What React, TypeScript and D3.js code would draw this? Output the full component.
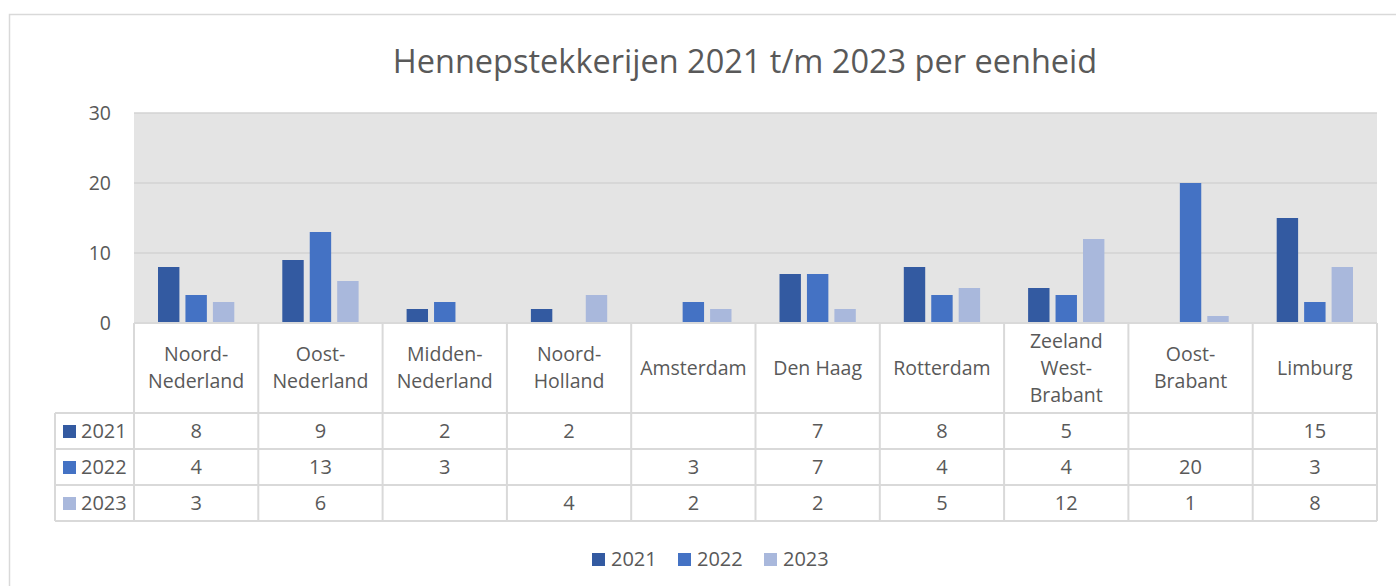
import * as d3 from "d3";

const categories = [
  "Noord-\nNederland",
  "Oost-\nNederland",
  "Midden-\nNederland",
  "Noord-\nHolland",
  "Amsterdam",
  "Den Haag",
  "Rotterdam",
  "Zeeland\nWest-\nBrabant",
  "Oost-\nBrabant",
  "Limburg",
];
const years = ["2021", "2022", "2023"];
const values2021: (number | null)[] = [8, 9, 2, 2, null, 7, 8, 5, null, 15];
const values2022: (number | null)[] = [4, 13, 3, null, 3, 7, 4, 4, 20, 3];
const values2023: (number | null)[] = [3, 6, null, 4, 2, 2, 5, 12, 1, 8];
const yTicks = [0, 10, 20, 30];
const colors = ["#335aa1", "#4472c4", "#a9b8dc"];

const series = [values2021, values2022, values2023];

const W = 1396;
const H = 586;
const plotL = 134;
const plotR = 1377;
const plotT = 113;
const plotB = 323;
const headerB = 413;
const rowH = 36;
const legendColL = 55;
const font = "'Open Sans', 'Noto Sans', sans-serif";
const textColor = "#595959";
const lineColor = "#d9d9d9";
const fs = 19.5;

export default function App() {
  const x = d3.scaleBand<number>().domain(d3.range(categories.length)).range([plotL, plotR]);
  const inner = d3.scaleBand<number>().domain([0, 1, 2]).range([24, x.bandwidth() - 24]).paddingInner(0.22);
  const y = d3.scaleLinear().domain([0, 30]).range([plotB, plotT]);

  return (
    <svg width={W} height={H} style={{ position: "absolute", left: 0, top: 0 }} fontFamily={font}>
      <rect x={0} y={0} width={W} height={H} fill="#fff" />
      <rect x={9.5} y={14.5} width={W + 20} height={H + 20} fill="none" stroke={lineColor} strokeWidth={1.5} />
      <text x={745} y={73} textAnchor="middle" fontSize={32.5} fill={textColor}>
        Hennepstekkerijen 2021 t/m 2023 per eenheid
      </text>

      <rect x={plotL} y={plotT} width={plotR - plotL} height={plotB - plotT} fill="#e4e4e4" />
      {yTicks.map((t) => (
        <g key={t}>
          {t > 0 && <line x1={plotL} x2={plotR} y1={y(t)} y2={y(t)} stroke="#d3d3d3" strokeWidth={1.5} />}
          <text x={111} y={y(t)} dy="0.35em" textAnchor="end" fontSize={fs} fill={textColor}>
            {t}
          </text>
        </g>
      ))}

      {series.map((vals, si) =>
        vals.map((v, ci) =>
          v == null ? null : (
            <rect
              key={`${si}-${ci}`}
              x={(x(ci) ?? 0) + (inner(si) ?? 0)}
              y={y(v)}
              width={inner.bandwidth()}
              height={y(0) - y(v)}
              fill={colors[si]}
            />
          )
        )
      )}

      {/* data table */}
      <g stroke={lineColor} strokeWidth={2} fill="none">
        <line x1={plotL} x2={plotR} y1={plotB} y2={plotB} />
        {d3.range(categories.length + 1).map((i) => {
          const xx = i === categories.length ? plotR : x(i) ?? 0;
          return <line key={i} x1={xx} x2={xx} y1={plotB} y2={headerB + rowH * 3} />;
        })}
        {d3.range(4).map((r) => (
          <line key={r} x1={legendColL} x2={plotR} y1={headerB + r * rowH} y2={headerB + r * rowH} />
        ))}
        <line x1={legendColL} x2={legendColL} y1={headerB} y2={headerB + rowH * 3} />
      </g>

      {categories.map((c, ci) => {
        const lines = c.split("\n");
        const cx = (x(ci) ?? 0) + x.bandwidth() / 2;
        const lh = 27;
        const mid = (plotB + headerB) / 2;
        return (
          <text key={c} x={cx} textAnchor="middle" fontSize={fs} fill={textColor}>
            {lines.map((l, li) => (
              <tspan key={li} x={cx} y={mid + (li - (lines.length - 1) / 2) * lh} dy="0.35em">
                {l}
              </tspan>
            ))}
          </text>
        );
      })}

      {series.map((vals, si) => {
        const cy = headerB + si * rowH + rowH / 2;
        return (
          <g key={si}>
            <rect x={63} y={cy - 6} width={13} height={13} fill={colors[si]} />
            <text x={81} y={cy} dy="0.35em" fontSize={20} fill={textColor}>
              {years[si]}
            </text>
            {vals.map((v, ci) =>
              v == null ? null : (
                <text
                  key={ci}
                  x={(x(ci) ?? 0) + x.bandwidth() / 2}
                  y={cy}
                  dy="0.35em"
                  textAnchor="middle"
                  fontSize={20}
                  fill={textColor}
                >
                  {v}
                </text>
              )
            )}
          </g>
        );
      })}

      {/* legend */}
      {years.map((yr, i) => {
        const lx = 592 + i * 86;
        return (
          <g key={yr}>
            <rect x={lx} y={553} width={13} height={13} fill={colors[i]} />
            <text x={lx + 19} y={559} dy="0.35em" fontSize={20} fill={textColor}>
              {yr}
            </text>
          </g>
        );
      })}
    </svg>
  );
}
